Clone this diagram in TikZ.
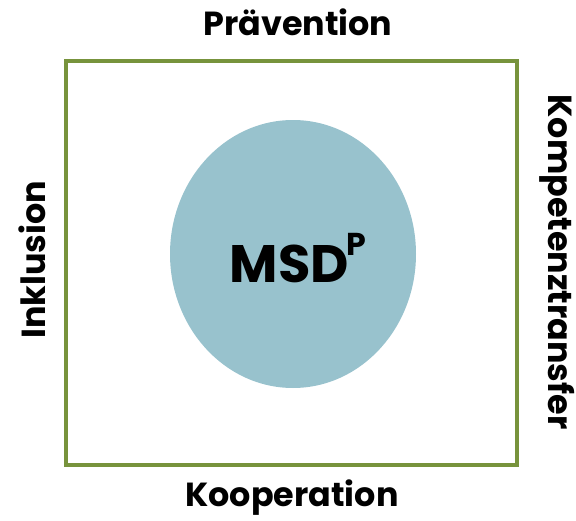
\documentclass[tikz,border=0pt]{standalone}
\usepackage{fontspec}
\setmainfont{Poppins}
\definecolor{rahmen}{HTML}{77933C}
\definecolor{kreis}{HTML}{98C2CD}
\tikzset{
  label/.style={font=\bfseries\fontsize{19}{23}\selectfont, inner sep=0pt},
}

\begin{document}
\begin{tikzpicture}[x=0.02cm, y=-0.02cm]
\useasboundingbox (0,0) rectangle (576,521);
%\fill [white] (0,0) rectangle (576,521);
\draw[rahmen, line width=0.08cm] (66,61) rectangle (517,465);
\fill[kreis] (293,254) ellipse (123 and 134);
\node[font=\bfseries\fontsize{30}{36}\selectfont, inner sep=0pt] (msd) at (298,258)
  {MSD\kern-0.04em\raisebox{0.5em}{\fontsize{18}{20}\selectfont P}};
\node[label] (praev) at (298,22) {Prävention};
\node[label] (koop) at (292,498) {Kooperation};
\node[label, rotate=90] (inkl) at (32,260) {Inklusion};
\node[label, rotate=-90] (komp) at (557,262) {Kompetenztransfer};
\end{tikzpicture}
\end{document}
